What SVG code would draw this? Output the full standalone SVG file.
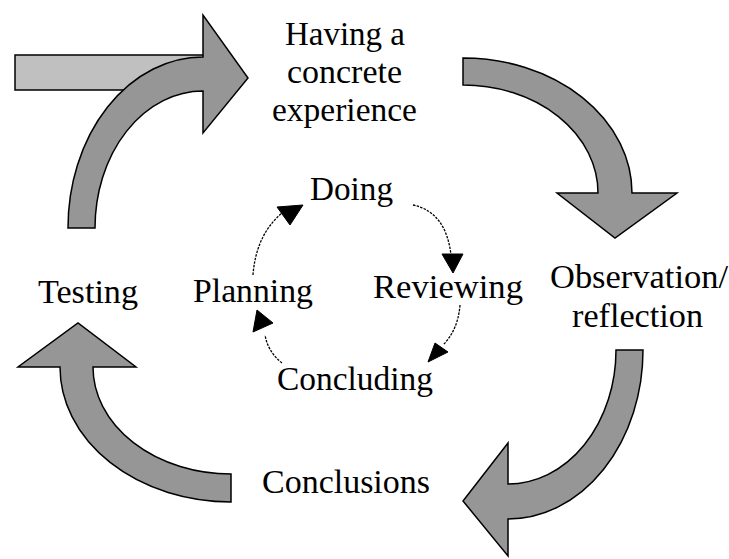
<svg xmlns="http://www.w3.org/2000/svg" width="729" height="559" viewBox="0 0 729 559">
  <style>
    .big { fill: #969696; stroke: #000; stroke-width: 1.5; stroke-linejoin: miter; }
    .lbl { font-family: "Liberation Serif", "Times New Roman", serif; font-size: 33px; fill: #000; }
    .thin { fill: none; stroke: #000; stroke-width: 1.3; stroke-dasharray: 2.5 1.2; }
    .head { fill: #000; stroke: #000; stroke-width: 1; }
  </style>
  <rect width="729" height="559" fill="#fff"/>

  <g id="connectors">
    <g id="input-bar">
      <rect x="15" y="55" width="190" height="35" fill="#c0c0c0" stroke="#000" stroke-width="1.5"/>
    </g>
    <path id="arrow-top-left" class="big" d="M68,228 A135,171 0 0 1 203,57 L203,15 L248,78 L203,133 L203,91 A108,137 0 0 0 95,228 Z"/>
    <path id="arrow-top-right" class="big" d="M463,58 A169,135 0 0 1 632,193 L677,193 L615,238 L557,193 L598,193 A135,108 0 0 0 463,85 Z"/>
    <path id="arrow-bottom-right" class="big" d="M643,350 A135,169 0 0 1 508,519 L508,556 L463,501 L508,443 L508,484 A108,134 0 0 0 616,350 Z"/>
    <path id="arrow-bottom-left" class="big" d="M231,502 A171,135 0 0 1 60,367 L18,367 L78,323 L136,367 L93,367 A138,107 0 0 0 231,474 Z"/>

    <path class="thin" d="M253,275 Q256,235 282,213"/>
    <polygon class="head" points="277,207 303,205 290,225"/>
    <path class="thin" d="M413,205 Q446,212 451,255"/>
    <polygon class="head" points="442,254 463,254 453,273"/>
    <path class="thin" d="M460,305 Q458,330 443,345"/>
    <polygon class="head" points="435,343 448,352 428,362"/>
    <path class="thin" d="M282,363 Q268,352 265,335"/>
    <polygon class="head" points="257,310 273,323 253,332"/>
  </g>

  <g id="node-experience">
    <text class="lbl" x="285" y="45" textLength="120" lengthAdjust="spacingAndGlyphs">Having a</text>
    <text class="lbl" x="287" y="83" textLength="115" lengthAdjust="spacingAndGlyphs">concrete</text>
    <text class="lbl" x="272" y="121" textLength="145" lengthAdjust="spacingAndGlyphs">experience</text>
  </g>
  <g id="node-observation">
    <text class="lbl" x="550" y="288" textLength="178" lengthAdjust="spacingAndGlyphs">Observation/</text>
    <text class="lbl" x="572" y="327" textLength="131" lengthAdjust="spacingAndGlyphs">reflection</text>
  </g>
  <g id="node-conclusions">
    <text class="lbl" x="262" y="493" textLength="168" lengthAdjust="spacingAndGlyphs">Conclusions</text>
  </g>
  <g id="node-testing">
    <text class="lbl" x="38" y="303" textLength="100" lengthAdjust="spacingAndGlyphs">Testing</text>
  </g>
  <g id="node-doing">
    <text class="lbl" x="310" y="200" textLength="83" lengthAdjust="spacingAndGlyphs">Doing</text>
  </g>
  <g id="node-reviewing">
    <text class="lbl" x="373" y="298" textLength="150" lengthAdjust="spacingAndGlyphs">Reviewing</text>
  </g>
  <g id="node-concluding">
    <text class="lbl" x="277" y="390" textLength="156" lengthAdjust="spacingAndGlyphs">Concluding</text>
  </g>
  <g id="node-planning">
    <text class="lbl" x="193" y="302" textLength="120" lengthAdjust="spacingAndGlyphs">Planning</text>
  </g>
</svg>
